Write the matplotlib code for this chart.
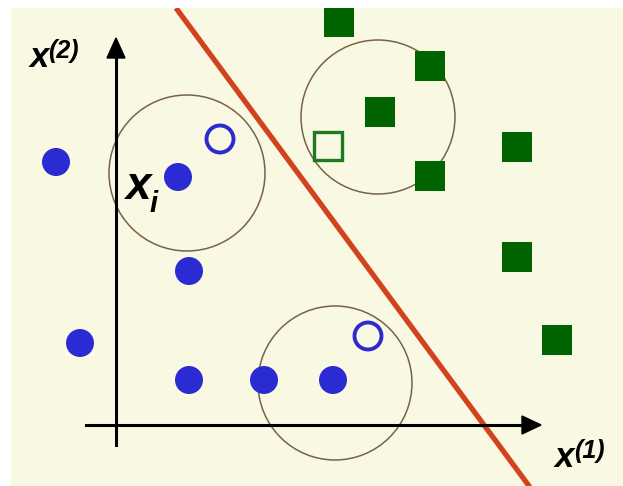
import matplotlib

matplotlib.use("Agg")
import matplotlib.pyplot as plt
from matplotlib.patches import Circle, Polygon, Rectangle

W, H = 623, 486

# class A (blue dots), in picture pixels
blue_x = [56, 178, 189, 80, 189, 264, 333]
blue_y = [162, 177, 271, 343, 380, 380, 380]
blue_open_x = [220, 368]
blue_open_y = [139, 336]

# class B (green squares)
green_x = [339, 430, 380, 430, 517, 517, 557]
green_y = [22, 66, 112, 176, 147, 257, 340]
green_open_x = [328]
green_open_y = [146]

# neighbourhood circles
nbr_x = [187, 378, 335]
nbr_y = [173, 117, 383]
nbr_r = [78, 77, 77]

# separating line end points
sep_x = [176, 532]
sep_y = [8, 490]

CREAM = "#f8f8e3"
BLUE = "#2b2bd3"
GREEN = "#006400"

fig = plt.figure(figsize=(W / 100, H / 100), dpi=100, facecolor="white")
ax = fig.add_axes([11 / W, 0, (W - 11) / W, (H - 8) / H])
ax.set_xlim(11, W)
ax.set_ylim(H, 8)
ax.set_facecolor(CREAM)
ax.axis("off")
ax.add_patch(Rectangle((11, 8), W - 11, H - 8, facecolor=CREAM, edgecolor="none", zorder=0))

for cx, cy, r in zip(nbr_x, nbr_y, nbr_r):
    ax.add_patch(Circle((cx, cy), r, fill=False, edgecolor="#7a6248", lw=1.1, zorder=2))

ax.plot(sep_x, sep_y, color="#d2421c", lw=3.8, solid_capstyle="butt", zorder=3)

# coordinate axes with arrow heads
ax.plot([116, 116], [445, 55], color="black", lw=2.2, zorder=4)
ax.add_patch(Polygon([(116, 38), (107, 58), (125, 58)], closed=True, color="black", zorder=4))
ax.plot([86, 525], [425, 425], color="black", lw=2.2, zorder=4)
ax.add_patch(Polygon([(541, 425), (522, 416), (522, 434)], closed=True, color="black", zorder=4))

for x, y in zip(blue_x, blue_y):
    ax.add_patch(Circle((x, y), 14, facecolor=BLUE, edgecolor="none", zorder=5))
for x, y in zip(blue_open_x, blue_open_y):
    ax.add_patch(Circle((x, y), 13.5, fill=False, edgecolor=BLUE, lw=2.8, zorder=5))

for x, y in zip(green_x, green_y):
    ax.add_patch(Rectangle((x - 15, y - 15), 30, 30, facecolor=GREEN, edgecolor="none", zorder=5))
for x, y in zip(green_open_x, green_open_y):
    ax.add_patch(Rectangle((x - 14, y - 14), 28, 28, fill=False, edgecolor="#1e7a1e", lw=2.4, zorder=5))

font = dict(family="Liberation Sans", weight="bold", style="italic", color="black", zorder=6)

# x^(2)
ax.text(30, 67, "x", fontsize=25, ha="left", va="baseline", **font)
ax.text(48, 58, "(2)", fontsize=18, ha="left", va="baseline", **font)
# x_i
ax.text(125, 199, "x", fontsize=33, ha="left", va="baseline", **font)
ax.text(150, 212, "i", fontsize=21, ha="left", va="baseline", **font)
# x^(1)
ax.text(555, 467, "x", fontsize=25, ha="left", va="baseline", **font)
ax.text(574, 458, "(1)", fontsize=18, ha="left", va="baseline", **font)

fig.savefig("out.png", dpi=100, facecolor="white")
